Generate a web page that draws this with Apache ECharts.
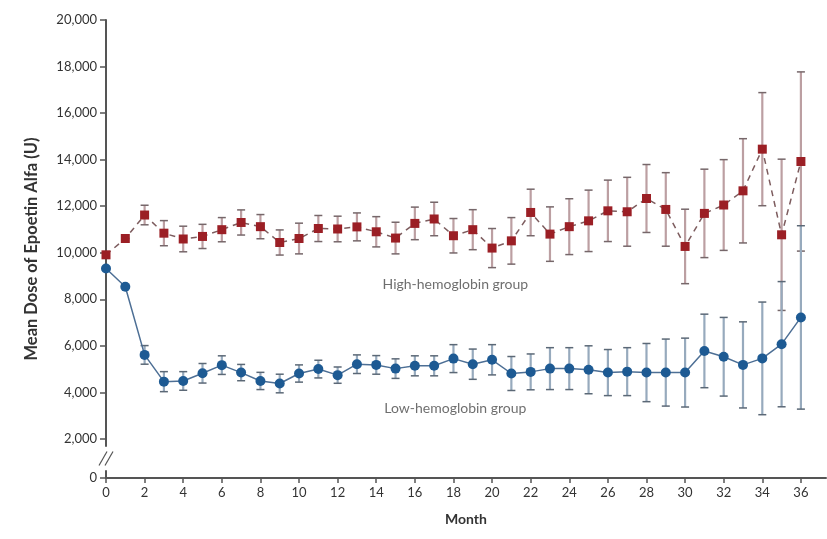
<!DOCTYPE html>
<html>
<head>
<meta charset="utf-8">
<script src="https://cdn.jsdelivr.net/npm/echarts@6.0.0/dist/echarts.min.js"></script>
<style>
html,body{margin:0;padding:0;background:#fff;}
#chart{width:827px;height:539px;}
</style>
</head>
<body>
<div id="chart"></div>
<script>
var months = [0,1,2,3,4,5,6,7,8,9,10,11,12,13,14,15,16,17,18,19,20,21,22,23,24,25,26,27,28,29,30,31,32,33,34,35,36];
var monthTicks = [0,2,4,6,8,10,12,14,16,18,20,22,24,26,28,30,32,34,36];
var doseTicks = [0,2000,4000,6000,8000,10000,12000,14000,16000,18000,20000];

// mean dose, high-hemoglobin group (red squares)
var highMean = [9910,10610,11620,10840,10590,10700,10990,11300,11120,10440,10610,11040,11020,11110,10900,10630,11260,11450,10730,10990,10200,10510,11730,10800,11120,11370,11800,11760,12330,11860,10270,11690,12050,12660,14450,10770,13920];
var highErr = [0,0,420,540,550,520,520,540,520,540,660,560,550,600,650,680,700,720,740,860,840,1000,1000,1170,1200,1320,1320,1480,1460,1580,1600,1900,1950,2240,2430,3250,3850];

// mean dose, low-hemoglobin group (blue circles)
var lowMean = [9320,8540,5610,4460,4490,4820,5170,4850,4490,4380,4810,5000,4740,5210,5180,5020,5140,5140,5450,5210,5400,4810,4880,5020,5020,4970,4850,4890,4850,4850,4850,5780,5530,5180,5460,6070,7220];
var lowErr = [0,0,400,430,400,420,400,350,370,400,370,380,350,400,400,420,430,430,600,650,650,730,770,900,900,1030,990,1030,1250,1440,1480,1580,1690,1850,2420,2690,3940];

var highLabelAt = [18.1, 8650];
var lowLabelAt = [18.1, 3300];

var font = 'Lato';

function toPairs(vals){
  return months.map(function(m,i){ return [m, vals[i]]; });
}

function errorBars(mean, err, stem, cap){
  return {
    type: 'custom',
    silent: true,
    z: 1,
    encode: {x: 0, y: [1, 2]},
    data: months.map(function(m,i){ return [m, mean[i]-err[i], mean[i]+err[i]]; }),
    renderItem: function(params, api){
      var lo = api.coord([api.value(0), api.value(1)]);
      var hi = api.coord([api.value(0), api.value(2)]);
      var w = 4;
      return {
        type: 'group',
        children: [
          {type:'line', shape:{x1:lo[0],y1:lo[1],x2:hi[0],y2:hi[1]}, style:{stroke:stem,lineWidth:2.2}},
          {type:'line', shape:{x1:hi[0]-w,y1:hi[1],x2:hi[0]+w,y2:hi[1]}, style:{stroke:cap,lineWidth:1.5}},
          {type:'line', shape:{x1:lo[0]-w,y1:lo[1],x2:lo[0]+w,y2:lo[1]}, style:{stroke:cap,lineWidth:1.5}}
        ]
      };
    }
  };
}

var chart = echarts.init(document.getElementById('chart'));

var option = {
  animation: false,
  backgroundColor: '#fff',
  grid: {left: 106, right: 1, top: 20, bottom: 61},
  xAxis: {
    type: 'value',
    min: 0,
    max: 37.3,
    name: 'Month',
    nameLocation: 'middle',
    nameGap: 34,
    nameTextStyle: {fontFamily: font, fontSize: 14, fontWeight: 'bold', color: '#333'},
    axisLine: {lineStyle: {color: '#555', width: 2}},
    axisTick: {customValues: monthTicks, length: 5, lineStyle: {color: '#555', width: 1.5}},
    axisLabel: {customValues: monthTicks, fontFamily: font, fontSize: 13, color: '#333', margin: 8},
    splitLine: {show: false}
  },
  yAxis: {
    type: 'value',
    min: 0,
    max: 20000,
    name: 'Mean Dose of Epoetin Alfa (U)',
    nameLocation: 'middle',
    nameGap: 66,
    nameTextStyle: {fontFamily: font, fontSize: 16.5, fontWeight: 'bold', color: '#333'},
    breaks: [{start: 300, end: 1700, gap: 1080}],
    breakArea: {itemStyle: {color: 'rgba(0,0,0,0)', borderColor: 'rgba(0,0,0,0)'}},
    axisLine: {show: true, lineStyle: {color: '#555', width: 2}},
    axisTick: {show: true, customValues: doseTicks, length: 6, lineStyle: {color: '#555', width: 1.5}},
    axisLabel: {
      customValues: doseTicks,
      fontFamily: font, fontSize: 13, color: '#333', margin: 9,
      formatter: function(v){ return v.toLocaleString('en-US'); }
    },
    splitLine: {show: false}
  },
  series: [
    errorBars(highMean, highErr, '#bc9fa2', '#76676a'),
    errorBars(lowMean, lowErr, '#97aabd', '#5b6876'),
    {
      name: 'High-hemoglobin group',
      type: 'line',
      z: 3,
      data: toPairs(highMean),
      symbol: 'rect',
      symbolSize: 9,
      itemStyle: {color: '#9b1f25'},
      lineStyle: {color: '#7d5c5e', width: 1.5, type: [6, 5]}
    },
    {
      name: 'Low-hemoglobin group',
      type: 'line',
      z: 3,
      data: toPairs(lowMean),
      symbol: 'circle',
      symbolSize: 10,
      itemStyle: {color: '#1d5a93'},
      lineStyle: {color: '#4d6f95', width: 1.5}
    },
    {
      type: 'scatter',
      silent: true,
      symbolSize: 0,
      data: [highLabelAt],
      label: {show: true, position: 'inside', formatter: 'High-hemoglobin group', fontFamily: font, fontSize: 14, color: '#4a4a4a'}
    },
    {
      type: 'scatter',
      silent: true,
      symbolSize: 0,
      data: [lowLabelAt],
      label: {show: true, position: 'inside', formatter: 'Low-hemoglobin group', fontFamily: font, fontSize: 14, color: '#4a4a4a'}
    }
  ]
};

chart.setOption(option);

// axis break mark "//"
var p = chart.convertToPixel({xAxisIndex: 0, yAxisIndex: 0}, [0, 1000]);
chart.setOption({
  graphic: [
    {type: 'polygon', shape: {points: [[p[0]-6, p[1]+7], [p[0]+2, p[1]-7], [p[0]+6, p[1]-7], [p[0]-2, p[1]+7]]}, style: {fill: '#fff'}, z: 10},
    {type: 'line', shape: {x1: p[0]-7, y1: p[1]+7, x2: p[0]+1, y2: p[1]-7}, style: {stroke: '#555', lineWidth: 1.2}, z: 11},
    {type: 'line', shape: {x1: p[0]-1, y1: p[1]+7, x2: p[0]+7, y2: p[1]-7}, style: {stroke: '#555', lineWidth: 1.2}, z: 11}
  ]
});
</script>
</body>
</html>
